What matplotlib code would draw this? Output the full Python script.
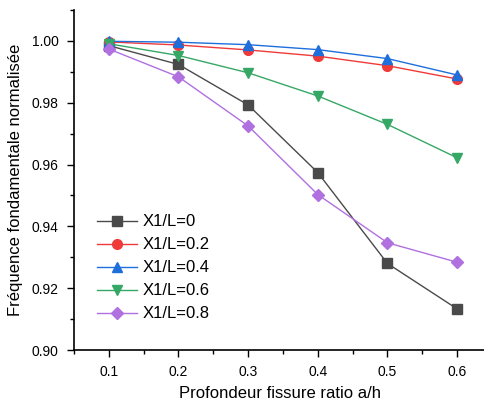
import matplotlib
matplotlib.use("Agg")
import matplotlib.pyplot as plt
from matplotlib.ticker import MultipleLocator

plt.rcParams['font.family'] = ['Liberation Sans', 'DejaVu Sans']

# rapport profondeur fissure a/h
ratio = [0.1, 0.2, 0.3, 0.4, 0.5, 0.6]

# fréquence fondamentale normalisée pour chaque position X1/L
f_0 = [0.9985, 0.9924, 0.9793, 0.9574, 0.9280, 0.9133]
f_02 = [0.9997, 0.9987, 0.9971, 0.9951, 0.9920, 0.9877]
f_04 = [0.9999, 0.9996, 0.9988, 0.9972, 0.9943, 0.9890]
f_06 = [0.9991, 0.9953, 0.9897, 0.9822, 0.9730, 0.9622]
f_08 = [0.9974, 0.9884, 0.9725, 0.9503, 0.9347, 0.9284]

series = [
    ('X1/L=0', f_0, '#4a4a4a', 's'),
    ('X1/L=0.2', f_02, '#f03a3a', 'o'),
    ('X1/L=0.4', f_04, '#1e6fdc', '^'),
    ('X1/L=0.6', f_06, '#36a865', 'v'),
    ('X1/L=0.8', f_08, '#b070e0', 'D'),
]

fig = plt.figure(figsize=(4.85, 4.03), dpi=100)
ax = fig.add_axes([0.1526, 0.1315, 0.8474, 0.8435])

for label, vals, col, mk in series:
    ms = 6 if mk == 'D' else 7
    ax.plot(ratio, vals, color=col, marker=mk, markersize=ms, linewidth=1.0,
            label=label)

ax.set_xlim(0.05, 0.64)
ax.set_ylim(0.90, 1.01)
ax.xaxis.set_major_locator(MultipleLocator(0.1))
ax.xaxis.set_minor_locator(MultipleLocator(0.05))
ax.yaxis.set_major_locator(MultipleLocator(0.02))
ax.yaxis.set_minor_locator(MultipleLocator(0.01))
ax.set_yticklabels([f'{v:.2f}' for v in ax.get_yticks()])
ax.set_xticklabels([f'{v:.1f}' for v in ax.get_xticks()])

ax.spines['top'].set_visible(False)
ax.spines['right'].set_visible(False)
ax.spines['left'].set_linewidth(1.2)
ax.spines['bottom'].set_linewidth(1.2)
ax.tick_params(which='major', direction='out', length=5, width=1, labelsize=10, pad=6)
ax.tick_params(which='minor', direction='out', length=3, width=1)

ax.set_xlabel('Profondeur fissure ratio a/h', fontsize=12, labelpad=5)
ax.set_ylabel('Fréquence fondamentale normalisée', fontsize=12, labelpad=6)

ax.legend(loc='lower left', bbox_to_anchor=(0.02, 0.04), frameon=False,
          fontsize=12, handlelength=2.4, labelspacing=0.48, handletextpad=0.3)

plt.savefig('out.png', dpi=100)
